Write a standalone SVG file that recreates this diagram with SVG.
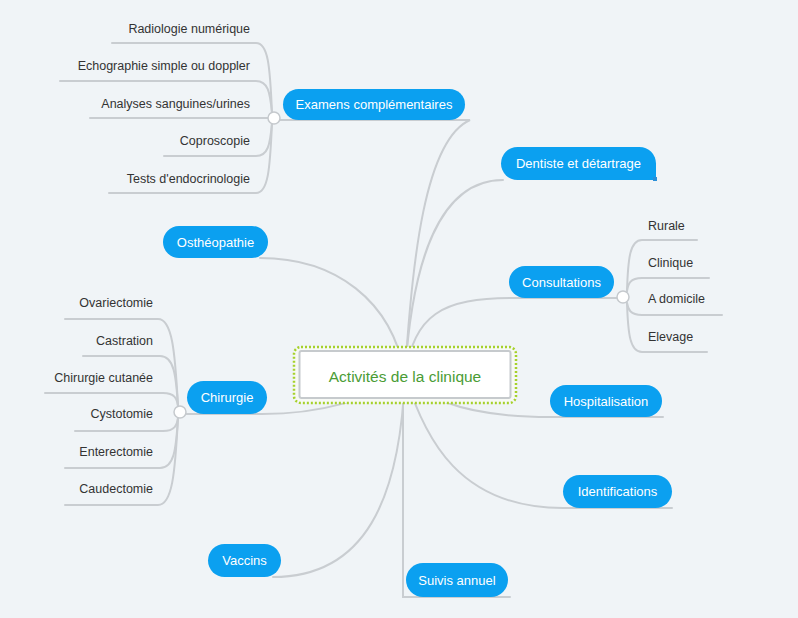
<svg xmlns="http://www.w3.org/2000/svg" width="798" height="618" viewBox="0 0 798 618">
<style>
.bg{fill:#f0f4f7}
.ln{fill:none;stroke:#c9cdd1;stroke-width:2;stroke-linecap:round}
.knob{fill:#ffffff;stroke:#c5c9cd;stroke-width:1.5}
.tp{fill:#0ba0f0}
.tt{font-family:"Liberation Sans",Arial,sans-serif;font-size:13px;fill:#ffffff;text-anchor:middle;dominant-baseline:central}
.st{font-family:"Liberation Sans",Arial,sans-serif;font-size:12.5px;fill:#333333;dominant-baseline:central}
.r{text-anchor:end}
.ct{font-family:"Liberation Sans",Arial,sans-serif;font-size:15.5px;fill:#4a9c35;text-anchor:middle;dominant-baseline:central}
</style>
<rect class="bg" x="0" y="0" width="798" height="618"/>
<g id="connectors">
  <path class="ln" d="M405,375 C412,260 425,140 470,120 H280"/>
  <path class="ln" d="M405,375 C412,260 440,180 503,180"/>
  <path class="ln" d="M405,375 C392,300 335,258 260,258"/>
  <path class="ln" d="M405,375 C415,315 440,298 515,298 H617"/>
  <path class="ln" d="M405,375 C370,400 320,414 262,414 H186"/>
  <path class="ln" d="M405,375 C430,405 480,417 550,417 H663"/>
  <path class="ln" d="M405,375 C425,440 460,508 563,508 H672"/>
  <path class="ln" d="M405,375 C400,500 365,577 273,577"/>
  <path class="ln" d="M403,375 V597 H510"/>
  <path class="ln" d="M272,113 C270,65 268,43 256,43 H112"/>
  <path class="ln" d="M272,113 C270,92 268,81 256,81 H60"/>
  <path class="ln" d="M268,118 H90"/>
  <path class="ln" d="M272,123 C270,145 268,156 256,156 H164"/>
  <path class="ln" d="M272,123 C270,170 268,193 256,193 H109"/>
  <path class="ln" d="M627,291 C628,258 630,240 642,240 H697"/>
  <path class="ln" d="M627,291 C628,284 630,278 642,278 H709"/>
  <path class="ln" d="M627,303 C628,309 630,315 642,315 H722"/>
  <path class="ln" d="M627,303 C628,334 630,352 642,352 H707"/>
  <path class="ln" d="M178,406 C175,350 172,319 158,319 H65"/>
  <path class="ln" d="M178,406 C176,375 174,356 160,356 H83"/>
  <path class="ln" d="M178,406 C177,399 175,393 163,393 H45"/>
  <path class="ln" d="M178,418 C177,425 175,431 163,431 H75"/>
  <path class="ln" d="M178,418 C176,450 174,468 160,468 H65"/>
  <path class="ln" d="M178,418 C175,475 172,505 158,505 H65"/>
  <circle class="knob" cx="274" cy="118" r="6"/>
  <circle class="knob" cx="623" cy="297" r="6"/>
  <circle class="knob" cx="180" cy="412" r="6"/>
</g>
<g id="examens">
  <rect class="tp" x="283" y="89" width="182" height="31" rx="15.5"/>
  <text class="tt" x="374" y="104.5">Examens complémentaires</text>
</g>
<g id="examens-children">
  <text class="st r" x="250" y="29">Radiologie numérique</text>
  <text class="st r" x="250" y="66">Echographie simple ou doppler</text>
  <text class="st r" x="250" y="104">Analyses sanguines/urines</text>
  <text class="st r" x="250" y="141">Coproscopie</text>
  <text class="st r" x="250" y="179">Tests d'endocrinologie</text>
</g>
<g id="dentiste">
  <path class="tp" d="M517.5,147 H639.5 A16.5,16.5 0 0 1 656,163.5 V178 A2,2 0 0 1 654,180 H517.5 A16.5,16.5 0 0 1 517.5,147 Z"/>
  <rect x="653" y="177" width="4" height="4" fill="#2a8fd8"/>
  <text class="tt" x="578.5" y="163.5">Dentiste et détartrage</text>
</g>
<g id="consultations">
  <rect class="tp" x="509" y="266" width="105" height="32" rx="16"/>
  <text class="tt" x="561.5" y="282">Consultations</text>
</g>
<g id="consultations-children">
  <text class="st" x="648" y="226">Rurale</text>
  <text class="st" x="648" y="263">Clinique</text>
  <text class="st" x="648" y="299">A domicile</text>
  <text class="st" x="648" y="337">Elevage</text>
</g>
<g id="ostheopathie">
  <rect class="tp" x="163" y="226" width="105" height="32" rx="16"/>
  <text class="tt" x="215.5" y="242">Osthéopathie</text>
</g>
<g id="chirurgie">
  <rect class="tp" x="187" y="381" width="80" height="33" rx="16.5"/>
  <text class="tt" x="227" y="397.5">Chirurgie</text>
</g>
<g id="chirurgie-children">
  <text class="st r" x="153" y="303">Ovariectomie</text>
  <text class="st r" x="153" y="341">Castration</text>
  <text class="st r" x="153" y="378">Chirurgie cutanée</text>
  <text class="st r" x="153" y="414">Cystotomie</text>
  <text class="st r" x="153" y="452">Enterectomie</text>
  <text class="st r" x="153" y="489">Caudectomie</text>
</g>
<g id="hospitalisation">
  <rect class="tp" x="550" y="385" width="112" height="32" rx="16"/>
  <text class="tt" x="606" y="401">Hospitalisation</text>
</g>
<g id="identifications">
  <rect class="tp" x="563" y="475" width="109" height="33" rx="16.5"/>
  <text class="tt" x="617.5" y="491.5">Identifications</text>
</g>
<g id="vaccins">
  <rect class="tp" x="208" y="544" width="73" height="33" rx="16.5"/>
  <text class="tt" x="244.5" y="560.5">Vaccins</text>
</g>
<g id="suivis">
  <rect class="tp" x="406" y="563" width="102" height="34" rx="17"/>
  <text class="tt" x="457" y="580">Suivis annuel</text>
</g>
<g id="center">
  <rect x="294" y="347" width="222" height="56" rx="7" fill="#f7f9f5" stroke="#a6d12b" stroke-width="2.5" stroke-dasharray="2 2"/>
  <rect x="299.5" y="351" width="211" height="47" rx="2" fill="#ffffff" stroke="#c6cacd" stroke-width="2"/>
  <text class="ct" x="405" y="376.5">Activités de la clinique</text>
</g>
</svg>
